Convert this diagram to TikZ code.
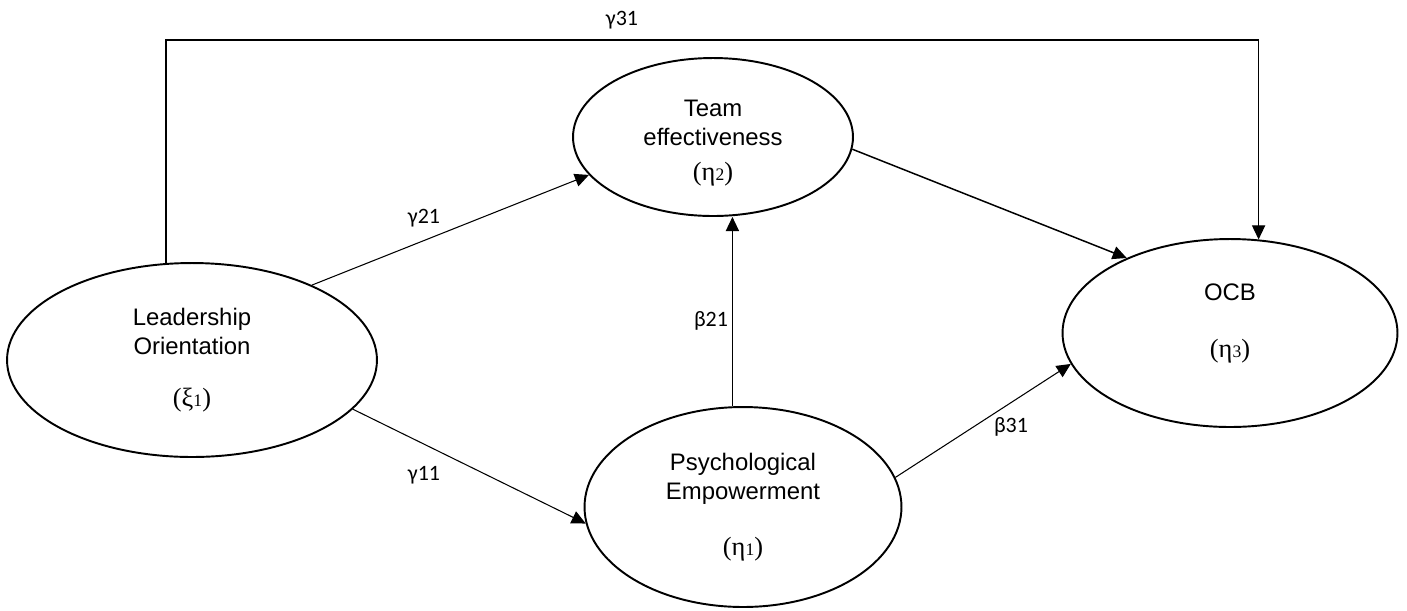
\documentclass[tikz,border=0pt]{standalone}
\usepackage{fontspec}
\setmainfont{Liberation Sans}
\newfontfamily\lblfont{Carlito}
\newfontfamily\symfont{Liberation Serif}
\usetikzlibrary{arrows.meta,shapes.geometric}

% latent variable symbol, e.g. (xi_1)
\newcommand{\latsym}[2]{{\symfont\fontsize{15}{15}\selectfont(#1{\fontsize{10}{10}\selectfont #2})}}

\tikzset{
  latent/.style={draw,ellipse,line width=1.1pt,inner sep=0pt},
  txt/.style={align=center,font=\fontsize{13.6}{16.5}\selectfont},
  link/.style={-{Triangle[length=8pt,width=7.5pt]},line width=0.6pt},
  lbl/.style={font=\lblfont\fontsize{12.5}{14}\selectfont}
}

\begin{document}
\begin{tikzpicture}[x=0.02cm,y=-0.02cm]
  \useasboundingbox (0,0) rectangle (1407,610);
  \clip (0,0) rectangle (1407,610);

  \node[latent,minimum width=7.4cm,minimum height=3.88cm,
    label={[txt]center:{Leadership\\Orientation\\[13pt]\latsym{ξ}{1}}}]
    (lead) at (192,360) {};
  \node[latent,minimum width=5.6cm,minimum height=3.16cm,
    label={[txt,yshift=-3.5pt]center:{Team\\effectiveness\\[3pt]\latsym{η}{2}}}]
    (team) at (713,137) {};
  \node[latent,minimum width=6.34cm,minimum height=4.0cm,
    label={[txt]center:{Psychological\\Empowerment\\[15pt]\latsym{η}{1}}}]
    (psych) at (743,507) {};
  \node[latent,minimum width=6.7cm,minimum height=3.76cm,
    label={[txt,yshift=5.5pt]center:{OCB\\[16pt]\latsym{η}{3}}}]
    (ocb) at (1230,333) {};

  \coordinate (top) at (0,40);

  \draw[line width=1.1pt] (lead.105) |- (ocb.73 |- top);
  \draw[link] (ocb.73 |- top) -- (ocb.73);
  \draw[link] (lead.32) -- (team.197);
  \draw[link] (lead.-17) -- (psych.186);
  \draw[link] (psych.96) -- (psych.96 |- team.south);
  \draw[link,line width=0.85pt] (team.-5) -- (ocb.144);
  \draw[link] (psych.11) -- (ocb.191);

  \node[lbl] (g31) at (622,20) {γ31};
  \node[lbl] (g21) at (424,218) {γ21};
  \node[lbl] (g11) at (424,475) {γ11};
  \node[lbl] (b21) at (711,321) {β21};
  \node[lbl] (b31) at (1011,427) {β31};
\end{tikzpicture}
\end{document}
